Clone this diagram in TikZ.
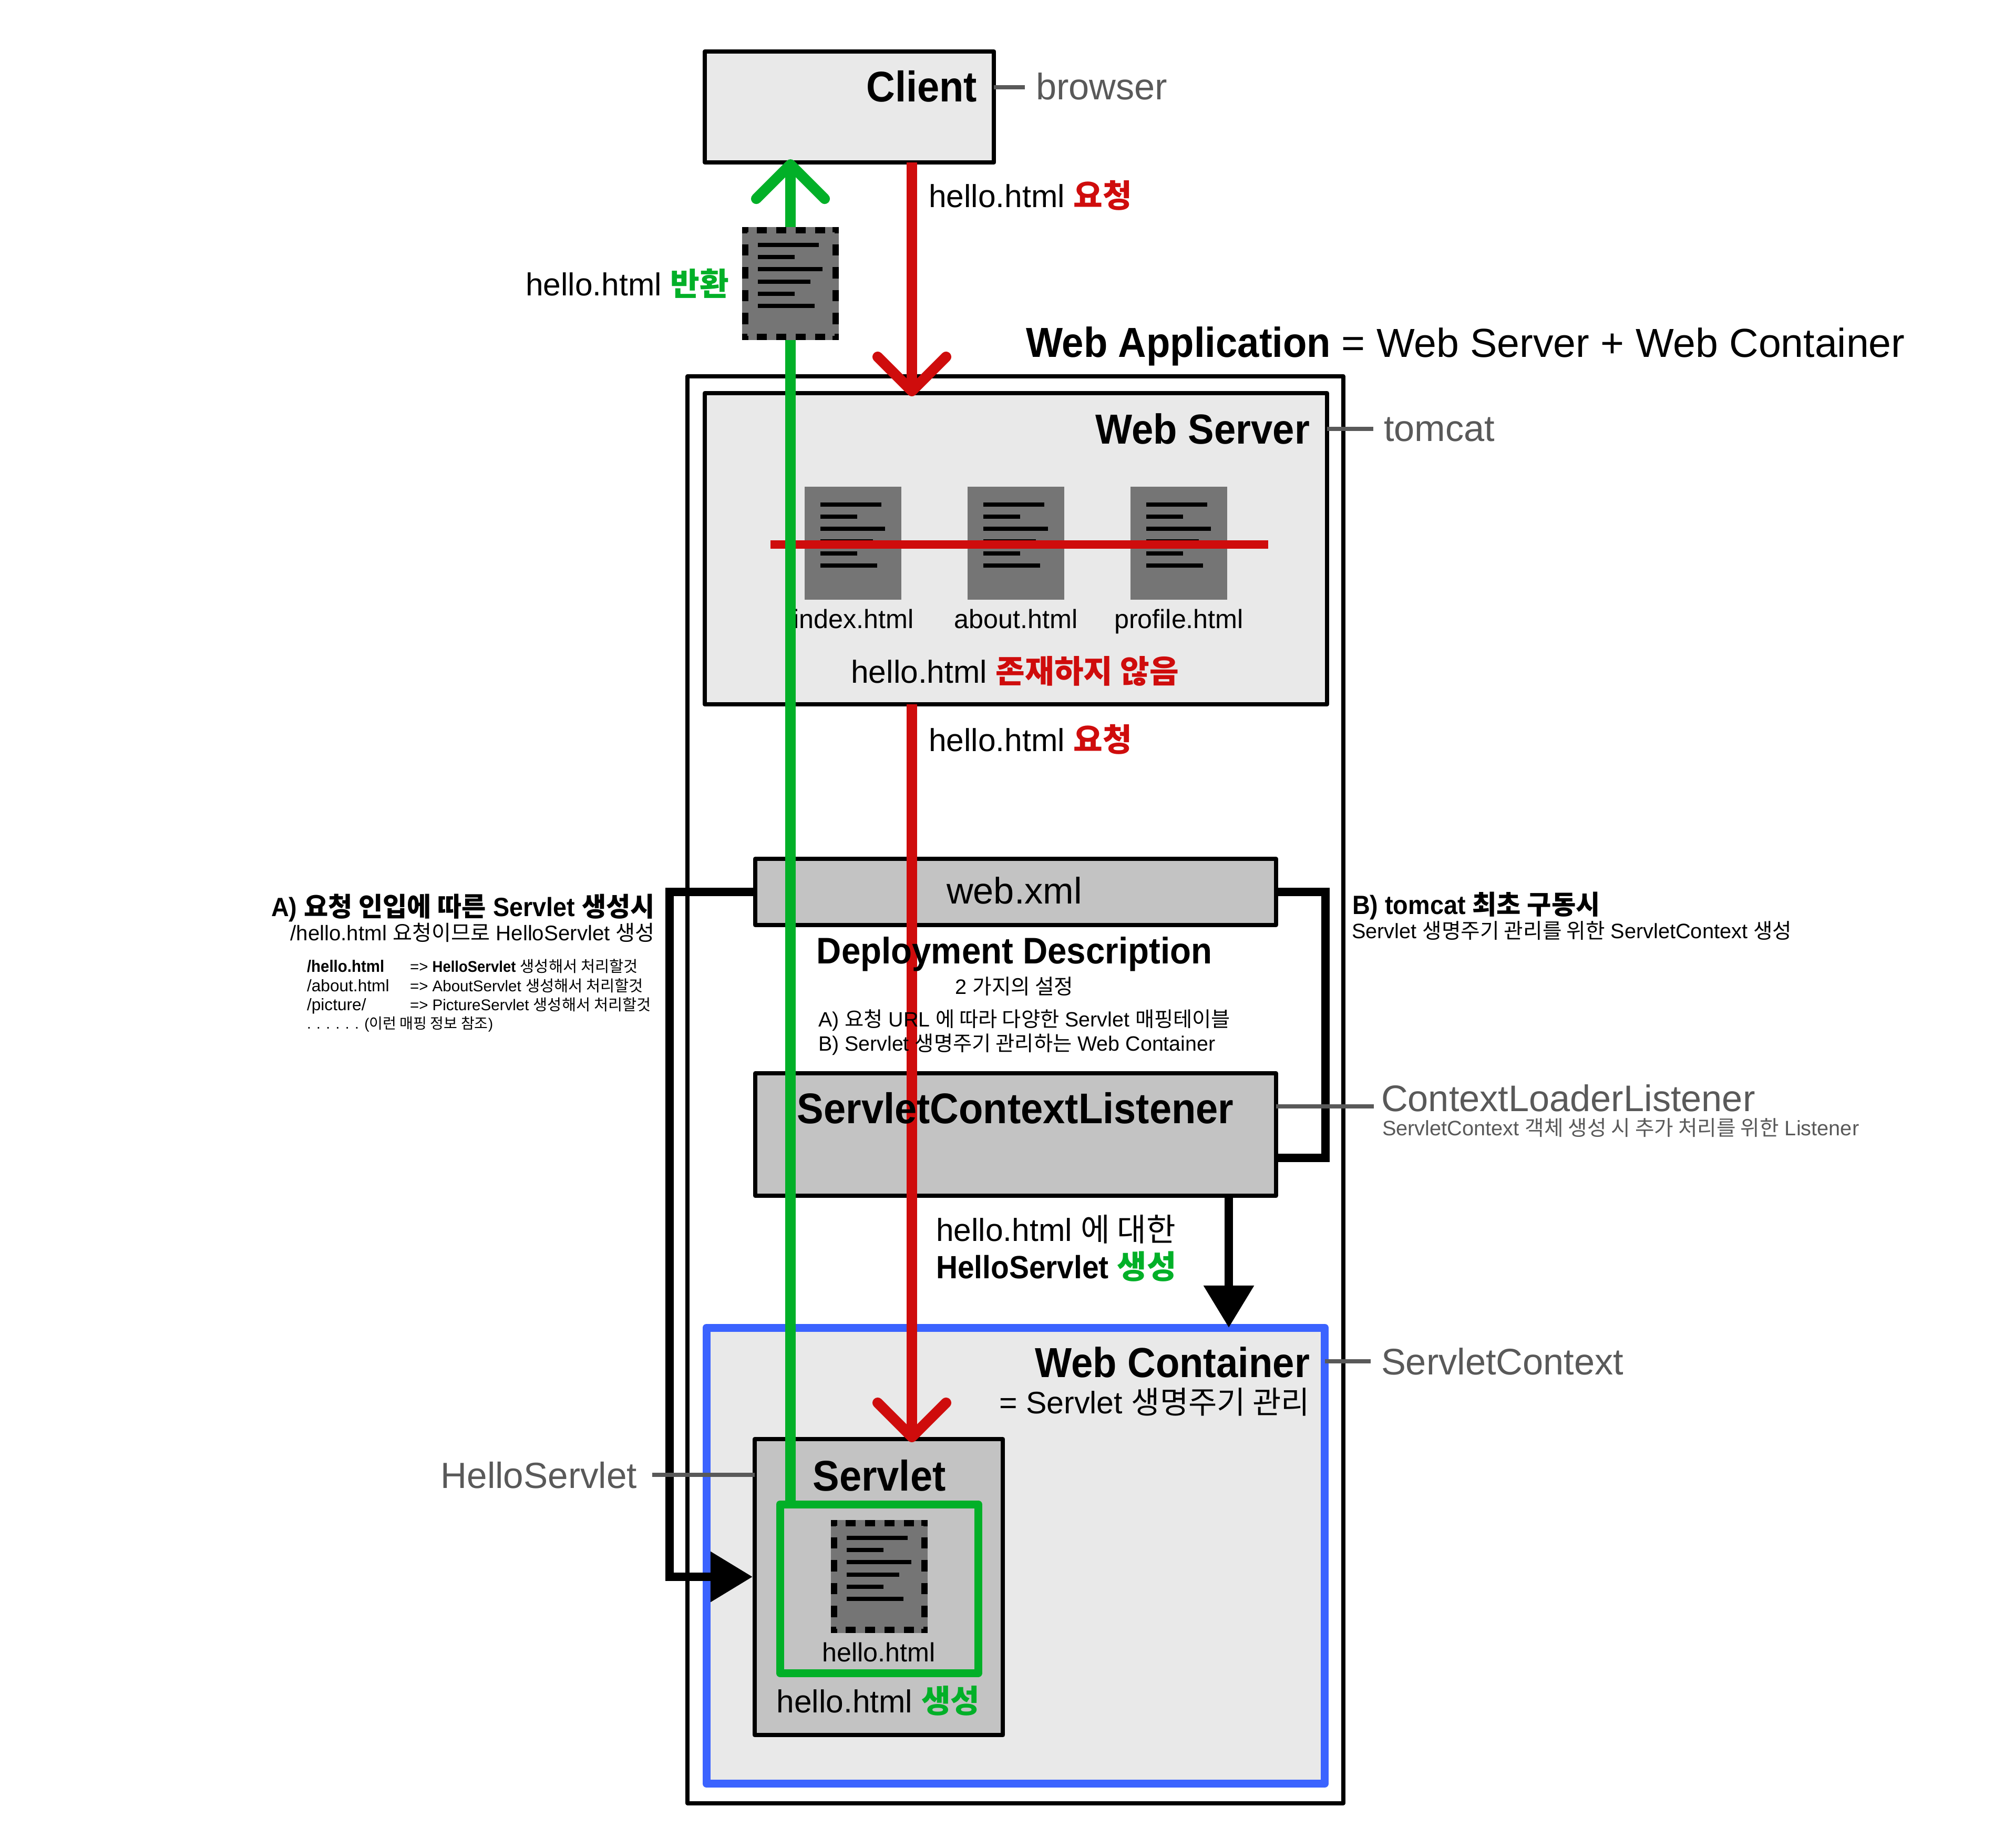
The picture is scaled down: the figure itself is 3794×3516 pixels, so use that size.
\documentclass[tikz,border=0pt]{standalone}
\usepackage{fontspec}
\usetikzlibrary{arrows.meta}
\setmainfont{Liberation Sans}[BoldFeatures={FakeStretch=0.93}]
\newfontfamily\krfont{Noto Sans CJK KR}
\newcommand{\kr}[1]{{\krfont #1}}
\newcommand{\fsize}[1]{\fontsize{#1pt}{#1pt}\selectfont}
\definecolor{boxlight}{HTML}{E9E9E9}
\definecolor{boxgray}{HTML}{C3C3C3}
\definecolor{docgray}{HTML}{757575}
\definecolor{labelgray}{HTML}{595959}
\definecolor{reqred}{HTML}{CF0C0C}
\definecolor{resgreen}{HTML}{02B028}
\definecolor{ctxblue}{HTML}{3B63FF}
\tikzset{
    box/.style={draw=black, line width=0.08cm, line join=round, fill=boxlight, anchor=north west, inner sep=0, outer sep=0},
    txt/.style={inner sep=0, outer sep=0, anchor=base west},
    txtr/.style={txt, anchor=base east},
    txtc/.style={txt, anchor=base},
    head/.style={font=\fsize{23.2}\bfseries},
    title/.style={font=\fsize{22.7}\bfseries},
    body/.style={font=\fsize{17.2}},
    small/.style={font=\fsize{14.3}},
    note/.style={font=\fsize{11.3}},
    mapping/.style={font=\fsize{8.4}},
    side/.style={font=\fsize{20}, text=labelgray},
    tick/.style={draw=labelgray, line width=0.08cm},
    reqline/.style={draw=reqred, line width=0.2cm, shorten >=-0.06cm, -{Straight Barb[length=0.65cm, width=1.3cm, round]}},
    resline/.style={draw=resgreen, line width=0.2cm, shorten >=-0.06cm, -{Straight Barb[length=0.65cm, width=1.3cm, round]}},
    bentline/.style={draw=black, line width=0.16cm, -{Triangle[length=0.8cm, width=0.92cm]}},
    docicon/.pic={
        \fill[docgray] (0,0) rectangle (184,215);
        \foreach \ly/\ll in {34/116, 57/70, 80/123, 104/100, 127/70, 150/108}
            \draw[black, line width=0.08cm] (30,\ly) -- ++(\ll,0);
    },
    dasheddoc/.pic={
        \pic {docicon};
        \draw[black, line width=0.12cm, dash pattern=on 0.185cm off 0.185cm, dash phase=0.09cm]
            (0,6) -- (184,6) (0,209) -- (184,209);
        \draw[black, line width=0.12cm, dash pattern=on 0.215cm off 0.22cm, dash phase=0.11cm]
            (6,0) -- (6,215) (178,0) -- (178,215);
    },
}
\begin{document}
\begin{tikzpicture}[x=0.01cm, y=-0.01cm]
    \useasboundingbox (0,0) rectangle (3794,3516);

    % 1. Boxes
    \node[box, minimum width=5.5cm, minimum height=2.11cm] (client) at (1341,98) {};
    \node[box, fill=white, minimum width=12.47cm, minimum height=27.13cm] (webapp) at (1308,716) {};
    \node[box, minimum width=11.83cm, minimum height=5.92cm] (webserver) at (1341,748) {};
    \node[box, fill=boxgray, minimum width=9.9cm, minimum height=1.26cm] (webxml) at (1437,1634) {};
    \node[box, fill=boxgray, minimum width=9.9cm, minimum height=2.33cm] (listener) at (1437,2042) {};
    \node[box, draw=ctxblue, line width=0.15cm, minimum width=11.76cm, minimum height=8.67cm] (container) at (1344,2526) {};
    \node[box, fill=boxgray, minimum width=4.72cm, minimum height=5.63cm] (servlet) at (1436,2738) {};

    % 2. Files of the web server
    \pic (indexdoc) at (1531,926) {docicon};
    \pic (aboutdoc) at (1841,926) {docicon};
    \pic (profiledoc) at (2151,926) {docicon};
    \node[txtc, small] (indexname) at (1624,1195) {index.html};
    \node[txtc, small] (aboutname) at (1933,1195) {about.html};
    \node[txtc, small] (profilename) at (2243,1195) {profile.html};
    \coordinate (strikel) at (1466,1036);
    \coordinate (striker) at (2413,1036);
    \draw[draw=reqred, line width=0.16cm] (strikel) -- (striker);

    % 3. Thick black connectors
    \coordinate (leftbend) at (1274,3000);
    \coordinate (rightbend) at (2522,2203);
    \coordinate (downx) at (2338,2400);
    \draw[bentline, shorten >=0.04cm] (webxml.west) -| (leftbend) -- (servlet.west |- leftbend);
    \draw[bentline, -, line join=miter] (webxml.east) -| (rightbend) -- (listener.east |- rightbend);
    \draw[bentline] (listener.south -| downx) -- (container.north -| downx);

    % 4. Red request arrows
    \coordinate (reqx) at (1735,1000);
    \draw[reqline] (client.south -| reqx) -- (webserver.north -| reqx);
    \draw[reqline] (webserver.south -| reqx) -- (servlet.north -| reqx);

    % 5. Green box and response arrow
    \node[box, fill=none, draw=resgreen, line width=0.15cm, minimum width=3.77cm, minimum height=3.21cm] (created) at (1484,2862) {};
    \coordinate (resx) at (1504,1000);
    \draw[resline] (created.north -| resx) -- (client.south -| resx);
    \pic (returndoc) at (1412,432) {dasheddoc};
    \pic (hellodoc) at (1581,2892) {dasheddoc};

    % 6. Leader lines
    \coordinate (browserend) at (1950,166);
    \coordinate (tomcatend) at (2613,816);
    \coordinate (loaderend) at (2614,2105);
    \coordinate (contextend) at (2608,2590);
    \coordinate (helloend) at (1241,2806);
    \draw[tick] (client.east |- browserend) -- (browserend);
    \draw[tick] (webserver.east |- tomcatend) -- (tomcatend);
    \draw[tick] (listener.east |- loaderend) -- (loaderend);
    \draw[tick] (container.east |- contextend) -- (contextend);
    \draw[tick] (servlet.west |- helloend) -- (helloend);

    % 7. Texts
    \node[txtr, head] (clientname) at (1859,194) {Client};
    \node[txt, side] (browser) at (1971,190) {browser};
    \node[txt, body] (req1) at (1767,395) {hello.html \textcolor{reqred}{\kr{\bfseries 요청}}};
    \node[txtr, body] (res1) at (1387,563) {hello.html \textcolor{resgreen}{\kr{\bfseries 반환}}};
    \node[txt, title] (apptitle) at (1952,680) {Web Application {\fsize{21.9}\mdseries = Web Server + Web Container}};
    \node[txtr, title] (servername) at (2492,845) {Web Server};
    \node[txt, side] (tomcat) at (2633,840) {tomcat};
    \node[txtc, body] (missing) at (1931,1299) {hello.html \textcolor{reqred}{\kr{\bfseries 존재하지 않음}}};
    \node[txt, body] (req2) at (1767,1429) {hello.html \textcolor{reqred}{\kr{\bfseries 요청}}};

    \node[txtc, side, text=black] (xmlname) at (1930,1719) {web.xml};
    \node[txtc, font=\fsize{20}\bfseries] (ddname) at (1930,1833) {Deployment Description};
    \node[txtc, note] (twosets) at (1930,1891) {2 \kr{가지의 설정}};
    \node[txt, note, font=\fsize{11.2}] (seta) at (1557,1953) {A) \kr{요청} URL \kr{에 따라 다양한} Servlet \kr{매핑테이블}};
    \node[txt, note, font=\fsize{11.2}] (setb) at (1557,1999) {B) Servlet \kr{생명주기 관리하는} Web Container};
    \node[txtc, head] (listenername) at (1932,2137) {ServletContextListener};

    \node[txt, side] (loader) at (2628,2114) {ContextLoaderListener};
    \node[txt, note, text=labelgray] (loadernote) at (2630,2160) {ServletContext \kr{객체 생성 시 추가 처리를 위한} Listener};
    \node[txt, font=\fsize{14.3}\bfseries] (btitle) at (2573,1739) {B) tomcat \kr{최초 구동시}};
    \node[txt, note] (bnote) at (2572,1785) {Servlet \kr{생명주기 관리를 위한} ServletContext \kr{생성}};

    \node[txtr, font=\fsize{14.3}\bfseries] (atitle) at (1246,1743) {A) \kr{요청 인입에 따른} Servlet \kr{생성시}};
    \node[txtr, note, font=\fsize{11.45}] (anote) at (1246,1789) {/hello.html \kr{요청이므로} HelloServlet \kr{생성}};
    \node[txt, font=\fsize{9}\bfseries] (map1) at (584,1849) {/hello.html};
    \node[txt, mapping] (to1) at (780,1849) {=> \textbf{HelloServlet} \kr{생성해서 처리할것}};
    \node[txt, font=\fsize{9}] (map2) at (584,1886) {/about.html};
    \node[txt, mapping] (to2) at (780,1886) {=> AboutServlet \kr{생성해서 처리할것}};
    \node[txt, font=\fsize{9}] (map3) at (584,1922) {/picture/};
    \node[txt, mapping] (to3) at (780,1922) {=> PictureServlet \kr{생성해서 처리할것}};
    \node[txt, font=\fsize{8}] (map4) at (584,1957) {. . . . . . (\kr{이런 매핑 정보 참조})};

    \node[txt, body] (create1) at (1781,2361) {hello.html \kr{에 대한}};
    \node[txt, font=\fsize{17.4}\bfseries] (create2) at (1781,2432) {HelloServlet \textcolor{resgreen}{\kr{생성}}};
    \node[txtr, title] (containername) at (2492,2620) {Web Container};
    \node[txtr, body, font=\fsize{16.8}] (containernote) at (2492,2689) {= Servlet \kr{생명주기 관리}};
    \node[txt, side] (context) at (2628,2615) {ServletContext};
    \node[txtr, side, font=\fsize{19.7}] (helloservlet) at (1212,2831) {HelloServlet};
    \node[txtc, head] (servletname) at (1673,2836) {Servlet};
    \node[txtc, small] (helloname) at (1672,3161) {hello.html};
    \node[txtc, body] (made) at (1671,3258) {hello.html \textcolor{resgreen}{\kr{\bfseries 생성}}};
\end{tikzpicture}
\end{document}
